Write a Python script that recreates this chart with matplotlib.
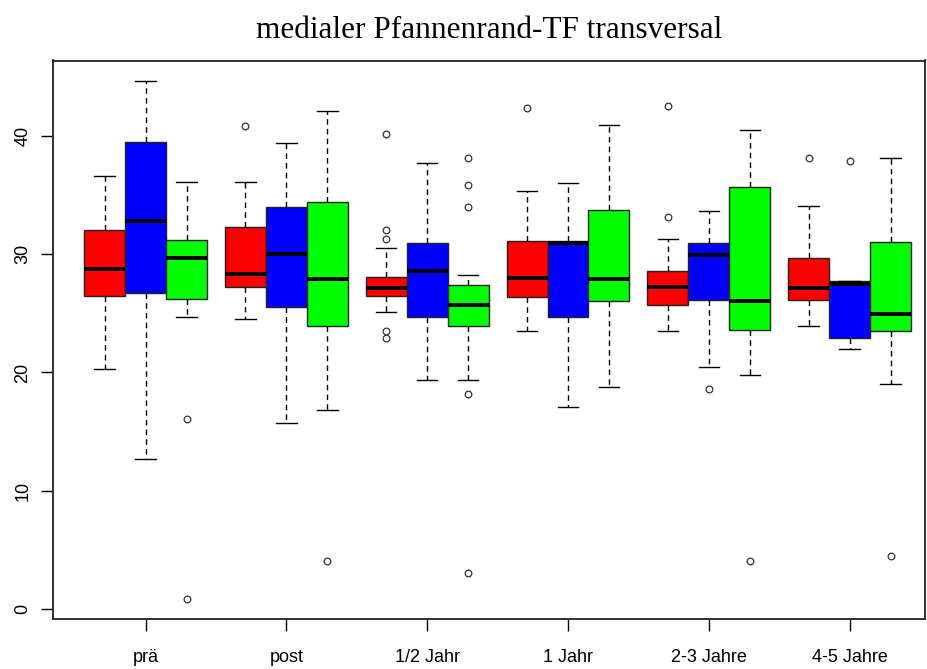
import matplotlib
matplotlib.use("Agg")
import matplotlib.pyplot as plt
import numpy as np

categories = ["prä", "post", "1/2 Jahr", "1 Jahr", "2-3 Jahre", "4-5 Jahre"]
title = "medialer Pfannenrand-TF transversal"
y_ticks = [0, 10, 20, 30, 40]

# red series
red_whislo = [20.3, 24.5, 25.1, 23.5, 23.5, 23.9]
red_q1 = [26.5, 27.2, 26.5, 26.4, 25.7, 26.1]
red_med = [28.7, 28.3, 27.1, 28.0, 27.2, 27.1]
red_q3 = [32.0, 32.3, 28.1, 31.1, 28.6, 29.7]
red_whishi = [36.6, 36.1, 30.5, 35.3, 31.3, 34.1]
red_fliers = [[], [40.8], [40.1, 32.0, 31.3, 23.5, 22.9], [42.3], [42.5, 33.1], [38.1]]

# blue series
blue_whislo = [12.7, 15.7, 19.4, 17.1, 20.5, 22.0]
blue_q1 = [26.7, 25.5, 24.7, 24.7, 26.1, 22.9]
blue_med = [32.8, 30.0, 28.6, 30.9, 29.9, 27.5]
blue_q3 = [39.5, 34.0, 30.9, 31.1, 30.9, 27.7]
blue_whishi = [44.6, 39.4, 37.7, 36.0, 33.6, 27.7]
blue_fliers = [[], [], [], [], [18.6], [37.9]]

# green series
green_whislo = [24.7, 16.8, 19.4, 18.8, 19.8, 19.0]
green_q1 = [26.2, 23.9, 23.9, 26.0, 23.6, 23.5]
green_med = [29.7, 27.9, 25.7, 27.9, 26.0, 24.9]
green_q3 = [31.2, 34.4, 27.4, 33.7, 35.7, 31.0]
green_whishi = [36.1, 42.1, 28.2, 40.9, 40.5, 38.1]
green_fliers = [[16.1, 0.9], [4.1], [38.1, 35.8, 34.0, 18.2, 3.1], [], [4.1], [4.5]]

series = [
    ("#FF0000", red_whislo, red_q1, red_med, red_q3, red_whishi, red_fliers),
    ("#0000FF", blue_whislo, blue_q1, blue_med, blue_q3, blue_whishi, blue_fliers),
    ("#00FF00", green_whislo, green_q1, green_med, green_q3, green_whishi, green_fliers),
]

W, H = 927, 669
fig = plt.figure(figsize=(W / 100, H / 100), dpi=100)
left, right, top, bottom = 52.7, 925.0, 60.5, 619.3
ax = fig.add_axes([left / W, 1 - bottom / H, (right - left) / W, (bottom - top) / H])

box_w = 0.291
group_pos = np.arange(1, len(categories) + 1)

for k, (col, wl, q1, md, q3, wh, fl) in enumerate(series):
    stats = []
    for i in range(len(categories)):
        stats.append(dict(whislo=wl[i], q1=q1[i], med=md[i], q3=q3[i],
                          whishi=wh[i], fliers=fl[i]))
    pos = group_pos + (k - 1) * box_w
    ax.bxp(stats, positions=pos, widths=box_w, patch_artist=True,
           showfliers=True, capwidths=box_w / 2, manage_ticks=False,
           boxprops=dict(facecolor=col, edgecolor="#222222", linewidth=1.0),
           medianprops=dict(color="black", linewidth=2.8, solid_capstyle="butt"),
           whiskerprops=dict(color="black", linewidth=1.0, linestyle=(0, (4, 3))),
           capprops=dict(color="black", linewidth=1.0),
           flierprops=dict(marker="o", markersize=4.8, markerfacecolor="white",
                           markeredgecolor="#333333", markeredgewidth=0.9,
                           linestyle="none"))

allv = []
for s in series:
    for arr in s[1:6]:
        allv += list(arr)
    for f in s[6]:
        allv += list(f)
lo, hi = min(allv), max(allv)
pad = 0.04 * (hi - lo)
ax.set_ylim(lo - pad, hi + pad)

px2x = lambda p: 1 + (p - 145.6) / 140.8
ax.set_xlim(px2x(left), px2x(right))

ax.set_xticks(group_pos)
ax.set_xticklabels(categories, fontsize=13, family="Liberation Sans")
ax.set_yticks(y_ticks)
ax.set_yticklabels([str(v) for v in y_ticks], fontsize=13, family="Liberation Sans",
                   rotation=90, va="center")
ax.tick_params(axis="both", direction="out", length=8.5, width=1.0, color="black")
ax.tick_params(axis="x", pad=13)
ax.tick_params(axis="y", pad=7)

for sp in ax.spines.values():
    sp.set_linewidth(1.3)
    sp.set_color("#222222")

fig.text((left + right) / 2 / W, 1 - 30 / H, title, ha="center", va="center",
         fontsize=22.5, family="Liberation Serif")

fig.savefig("out.png", dpi=100)
